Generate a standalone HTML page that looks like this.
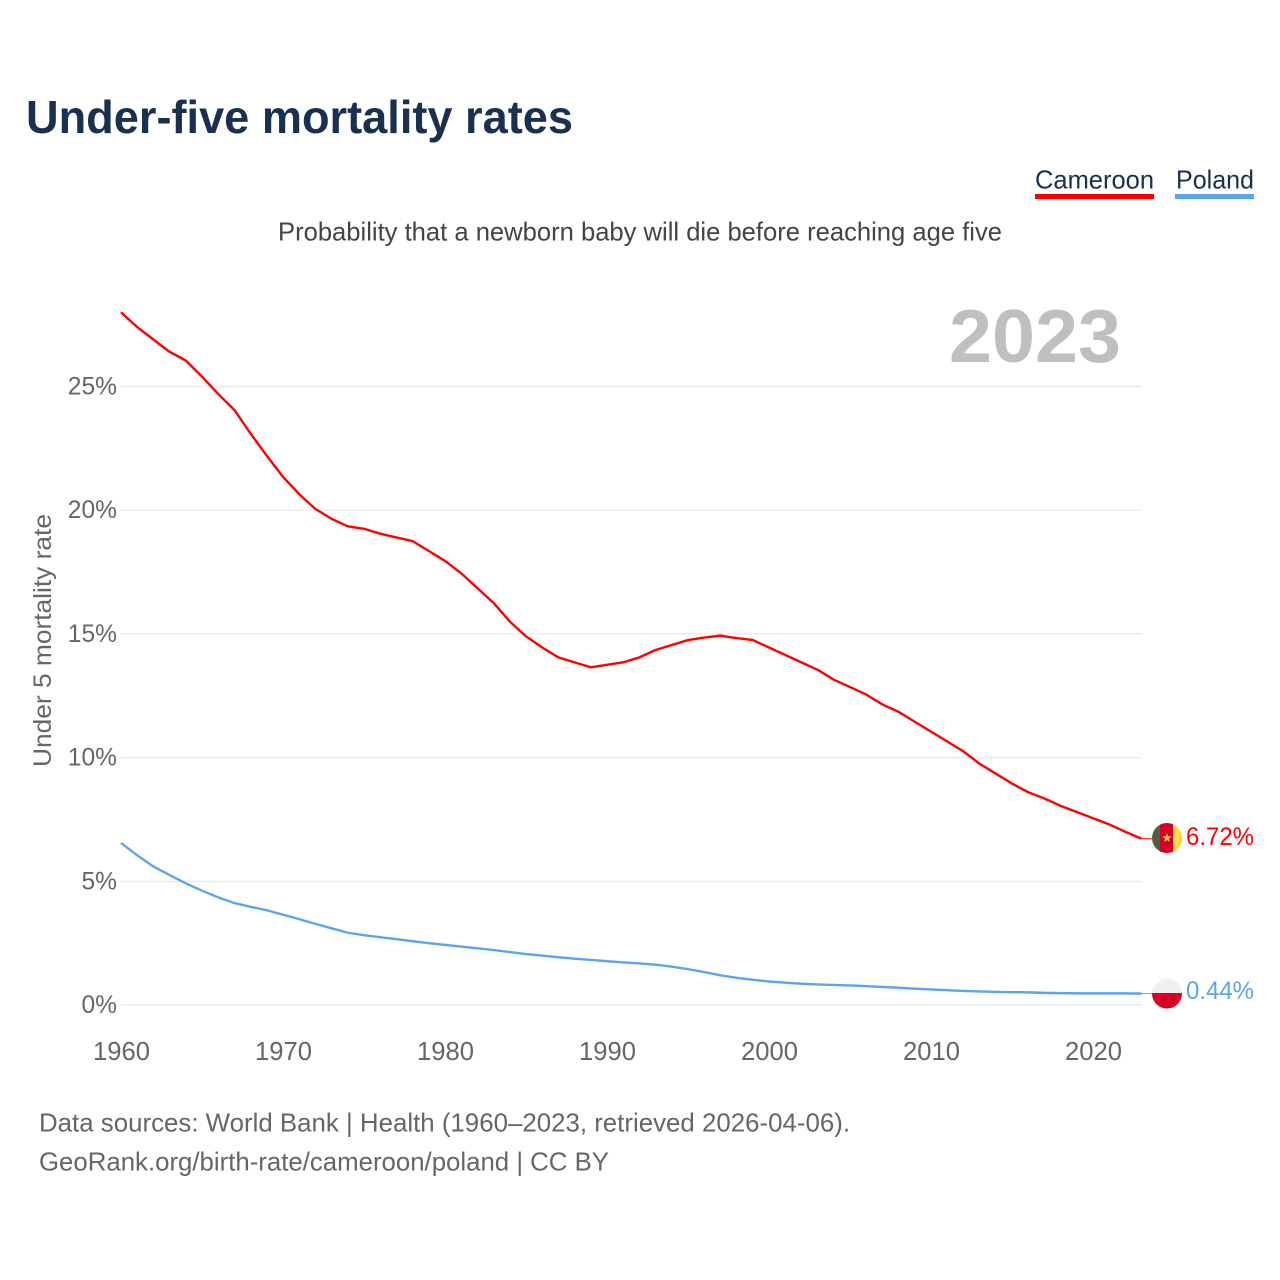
<!DOCTYPE html>
<html><head><meta charset="utf-8"><title>Under-five mortality rates</title>
<style>
html,body{margin:0;padding:0;background:#fff;width:1280px;height:1280px;overflow:hidden}
svg{display:block}
text{font-family:"Liberation Sans",sans-serif}
</style></head>
<body>
<svg id="chart" xmlns="http://www.w3.org/2000/svg" width="1280" height="1280" viewBox="0 0 1280 1280">
<text x="26" y="133" font-size="46" font-weight="700" fill="#1a3050" textLength="547" lengthAdjust="spacingAndGlyphs">Under-five mortality rates</text>
<g>
<text x="1035" y="188.5" font-size="26" fill="#1a3050" textLength="119" lengthAdjust="spacingAndGlyphs">Cameroon</text>
<rect x="1035" y="194" width="119" height="5" fill="#ff0000"/>
</g>
<g>
<text x="1176" y="188.5" font-size="26" fill="#1a3050" textLength="78" lengthAdjust="spacingAndGlyphs">Poland</text>
<rect x="1175" y="194" width="79" height="5" fill="#5ba4ee"/>
</g>
<text x="278" y="240.5" font-size="26" fill="#444" textLength="724" lengthAdjust="spacingAndGlyphs">Probability that a newborn baby will die before reaching age five</text>
<text x="949" y="362" font-size="75" font-weight="700" fill="#bfbfbf" textLength="172" lengthAdjust="spacingAndGlyphs">2023</text>
<text transform="translate(51 767) rotate(-90)" x="0" y="0" font-size="25" fill="#666" textLength="253" lengthAdjust="spacingAndGlyphs">Under 5 mortality rate</text>
<g id="grid"></g>
<g id="yticks"></g>
<g id="xticks"></g>
<g id="series"></g>
<g>
<clipPath id="clipCm"><circle cx="1167" cy="838" r="15"/></clipPath>
<g clip-path="url(#clipCm)">
<rect x="1152" y="823" width="10" height="30" fill="#4f5f3f"/>
<rect x="1160" y="823" width="13" height="30" fill="#d80027"/>
<rect x="1173" y="823" width="9" height="30" fill="#ffda44"/>
</g>
<polygon points="1167,833.2 1168.2,836.4 1171.6,836.5 1168.9,838.6 1169.9,841.9 1167,840 1164.1,841.9 1165.1,838.6 1162.4,836.5 1165.8,836.4" fill="#ffda44"/>
</g>
<g>
<clipPath id="clipPl"><circle cx="1167" cy="993.5" r="15"/></clipPath>
<g clip-path="url(#clipPl)">
<rect x="1152" y="978" width="30" height="15" fill="#f0f0f0"/>
<rect x="1152" y="993" width="30" height="16" fill="#d80027"/>
</g>
</g>
<text x="1186" y="845" font-size="25" fill="#ff0000" textLength="68" lengthAdjust="spacingAndGlyphs">6.72%</text>
<text x="1186" y="999" font-size="25" fill="#5ba4ee" textLength="68" lengthAdjust="spacingAndGlyphs">0.44%</text>
<text x="39" y="1131.5" font-size="26" fill="#666" textLength="811" lengthAdjust="spacingAndGlyphs">Data sources: World Bank | Health (1960–2023, retrieved 2026-04-06).</text>
<text x="39" y="1170.5" font-size="26" fill="#666" textLength="570" lengthAdjust="spacingAndGlyphs">GeoRank.org/birth-rate/cameroon/poland | CC BY</text>
</svg>
<script>
const startYear = 1960;
const yTickValues = [0, 5, 10, 15, 20, 25];
const yTickLabels = ['0%', '5%', '10%', '15%', '20%', '25%'];
const xTickYears = [1960, 1970, 1980, 1990, 2000, 2010, 2020];
const cameroon = [28.0,27.4,26.9,26.4,26.05,25.4,24.7,24.05,23.1,22.2,21.35,20.65,20.05,19.65,19.35,19.25,19.05,18.9,18.75,18.35,17.95,17.45,16.85,16.25,15.5,14.9,14.45,14.05,13.85,13.65,13.75,13.85,14.05,14.35,14.55,14.75,14.85,14.93,14.83,14.75,14.45,14.15,13.85,13.55,13.15,12.85,12.55,12.15,11.85,11.45,11.05,10.65,10.25,9.75,9.35,8.95,8.6,8.35,8.05,7.8,7.55,7.3,7.0,6.72];
const poland = [6.55,6.05,5.6,5.25,4.92,4.62,4.35,4.12,3.97,3.83,3.65,3.47,3.28,3.1,2.92,2.82,2.74,2.66,2.58,2.5,2.43,2.36,2.29,2.22,2.14,2.06,2.0,1.93,1.87,1.82,1.77,1.72,1.68,1.63,1.55,1.45,1.33,1.2,1.1,1.02,0.95,0.9,0.86,0.83,0.81,0.79,0.76,0.73,0.7,0.66,0.63,0.6,0.57,0.55,0.53,0.52,0.51,0.49,0.48,0.47,0.47,0.47,0.47,0.46];

const NS = 'http://www.w3.org/2000/svg';
function xScale(year) { return 121 + (year - 1960) * 16.2; }
function yScale(v) { return 1005 - v * 24.74; }

const gridG = document.getElementById('grid');
const yG = document.getElementById('yticks');
const xG = document.getElementById('xticks');
const seriesG = document.getElementById('series');

yTickValues.forEach(function (v, i) {
  const line = document.createElementNS(NS, 'line');
  
  
  line.setAttribute('x1', 121);
  line.setAttribute('x2', 1142);
  line.setAttribute('y1', yScale(v));
  line.setAttribute('y2', yScale(v));
  line.setAttribute('stroke', '#e8e8e8');
  line.setAttribute('stroke-width', '1.2');
  gridG.appendChild(line);
  const t = document.createElementNS(NS, 'text');
  
  
  t.setAttribute('x', 117);
  t.setAttribute('y', yScale(v) + 8);
  t.setAttribute('text-anchor', 'end');
  t.setAttribute('font-size', '24.6');
  t.setAttribute('fill', '#666');
  t.textContent = yTickLabels[i];
  yG.appendChild(t);
});

xTickYears.forEach(function (yr) {
  const t = document.createElementNS(NS, 'text');
  
  
  t.setAttribute('x', xScale(yr) + 0.5);
  t.setAttribute('y', 1060);
  t.setAttribute('text-anchor', 'middle');
  t.setAttribute('font-size', '25.6');
  t.setAttribute('fill', '#666');
  t.textContent = String(yr);
  xG.appendChild(t);
});

function pathFor(values) {
  return values.map(function (v, i) {
    return (i ? 'L' : 'M') + xScale(startYear + i).toFixed(2) + ' ' + yScale(v).toFixed(2);
  }).join(' ');
}

const cmLine = document.createElementNS(NS, 'path');


cmLine.setAttribute('d', pathFor(cameroon));
cmLine.setAttribute('fill', 'none');
cmLine.setAttribute('stroke', '#ff0000');
cmLine.setAttribute('stroke-width', '2.4');
seriesG.appendChild(cmLine);

const plLine = document.createElementNS(NS, 'path');


plLine.setAttribute('d', pathFor(poland));
plLine.setAttribute('fill', 'none');
plLine.setAttribute('stroke', '#5ba4ee');
plLine.setAttribute('stroke-width', '2.4');
seriesG.appendChild(plLine);

const cmConn = document.createElementNS(NS, 'line');


cmConn.setAttribute('x1', xScale(2023));
cmConn.setAttribute('x2', 1152);
cmConn.setAttribute('y1', yScale(cameroon[cameroon.length - 1]));
cmConn.setAttribute('y2', yScale(cameroon[cameroon.length - 1]));
cmConn.setAttribute('stroke', '#ff0000');
cmConn.setAttribute('stroke-width', '1');
seriesG.appendChild(cmConn);

const plConn = document.createElementNS(NS, 'line');


plConn.setAttribute('x1', xScale(2023));
plConn.setAttribute('x2', 1152);
plConn.setAttribute('y1', yScale(poland[poland.length - 1]));
plConn.setAttribute('y2', yScale(poland[poland.length - 1]));
plConn.setAttribute('stroke', '#5ba4ee');
plConn.setAttribute('stroke-width', '1');
seriesG.appendChild(plConn);
</script>
</body></html>
